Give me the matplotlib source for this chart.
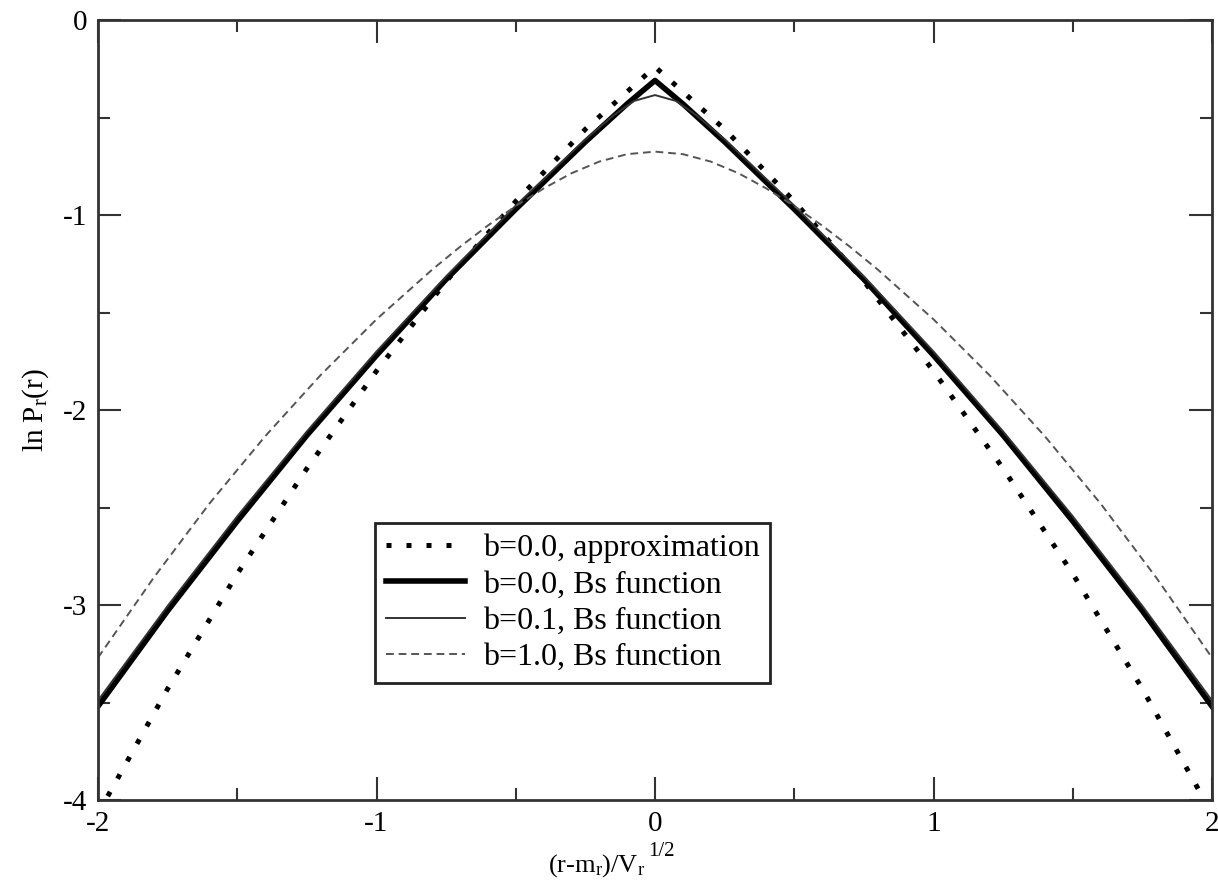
import numpy as np
import matplotlib
matplotlib.use("Agg")
import matplotlib.pyplot as plt
from matplotlib.ticker import MultipleLocator

plt.rcParams['font.family'] = ['Liberation Serif', 'DejaVu Serif']
plt.rcParams['mathtext.fontset'] = 'custom'
plt.rcParams['mathtext.rm'] = 'Liberation Serif'
plt.rcParams['mathtext.it'] = 'Liberation Serif:italic'
plt.rcParams['axes.unicode_minus'] = False

# values
x_apx = [-2, -1.75, -1.5, -1.25, -1, -0.75, -0.5, -0.25, 0,
         0.25, 0.5, 0.75, 1, 1.25, 1.5, 1.75, 2]
y_apx = [-4.07, -3.43, -2.84, -2.30, -1.80, -1.34, -0.93, -0.56, -0.24,
         -0.56, -0.93, -1.34, -1.80, -2.30, -2.84, -3.43, -4.07]

x_b00 = [-2, -1.75, -1.5, -1.25, -1, -0.75, -0.5, -0.25, -0.1, 0,
         0.1, 0.25, 0.5, 0.75, 1, 1.25, 1.5, 1.75, 2]
y_b00 = [-3.52, -3.03, -2.57, -2.13, -1.72, -1.33, -0.97, -0.625, -0.43, -0.31,
         -0.43, -0.625, -0.97, -1.33, -1.72, -2.13, -2.57, -3.03, -3.52]

x_b01 = [-2, -1.75, -1.5, -1.25, -1, -0.75, -0.5, -0.25, -0.15, -0.075, 0,
         0.075, 0.15, 0.25, 0.5, 0.75, 1, 1.25, 1.5, 1.75, 2]
y_b01 = [-3.49, -3.005, -2.545, -2.11, -1.70, -1.315, -0.952, -0.612, -0.49, -0.415, -0.385,
         -0.415, -0.49, -0.612, -0.952, -1.315, -1.70, -2.11, -2.545, -3.005, -3.49]

x_b10 = [-2, -1.8, -1.6, -1.4, -1.2, -1, -0.8, -0.7, -0.6, -0.5, -0.4, -0.3, -0.2, -0.1, 0,
         0.1, 0.2, 0.3, 0.4, 0.5, 0.6, 0.7, 0.8, 1, 1.2, 1.4, 1.6, 1.8, 2]
y_b10 = [-3.27, -2.86, -2.48, -2.135, -1.82, -1.535, -1.28, -1.163, -1.054, -0.954, -0.864, -0.786, -0.726, -0.688, -0.675,
         -0.688, -0.726, -0.786, -0.864, -0.954, -1.054, -1.163, -1.28, -1.535, -1.82, -2.135, -2.48, -2.86, -3.27]

labels = ["b=0.0, approximation", "b=0.0, Bs function",
          "b=0.1, Bs function", "b=1.0, Bs function"]

fig = plt.figure(figsize=(12.18, 8.94), dpi=100)
ax = fig.add_axes([98/1218, 94/894, 1114/1218, 780/894])

ax.plot(x_apx, y_apx, color='black', lw=3.6, linestyle=(0, (1, 3)),
        dash_capstyle='butt', label=labels[0])
ax.plot(x_b00, y_b00, color='black', lw=4, label=labels[1])
ax.plot(x_b01, y_b01, color='#333333', lw=1.4, label=labels[2])
ax.plot(x_b10, y_b10, color='#555555', lw=1.4, linestyle=(0, (4, 2.5)), label=labels[3])

ax.set_xlim(-2, 2)
ax.set_ylim(-4, 0)
ax.xaxis.set_major_locator(MultipleLocator(1))
ax.xaxis.set_minor_locator(MultipleLocator(0.5))
ax.yaxis.set_major_locator(MultipleLocator(1))
ax.yaxis.set_minor_locator(MultipleLocator(0.5))
ax.tick_params(which='both', direction='in', top=True, right=True,
               color='#333333', width=1.5, labelsize=21)
ax.tick_params(which='major', length=16.5, pad=8)
ax.tick_params(which='minor', length=8.5)
for s in ax.spines.values():
    s.set_linewidth(2)
    s.set_color('#333333')

# x label with a raised exponent, built from two texts
fig.text(548/1218, 1 - 872/894, r'(r-m$_\mathregular{r}$)/V$_\mathregular{r}$',
         fontsize=19, ha='left', va='baseline')
fig.text(648/1218, 1 - 856/894, '1/2', fontsize=15, ha='left', va='baseline')

ax.set_ylabel(r'ln P$_\mathregular{r}$(r)', fontsize=21, labelpad=8)

leg = ax.legend(loc='upper left', bbox_to_anchor=(0.2487, 0.355), borderaxespad=0,
                fontsize=23, fancybox=False, framealpha=1, edgecolor='#222222',
                handlelength=2.5, handletextpad=0.55, labelspacing=0.22, borderpad=0.33)
leg.get_frame().set_linewidth(2)

fig.savefig('out.png', dpi=100)
